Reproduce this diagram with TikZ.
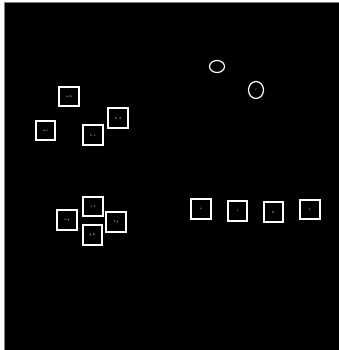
\documentclass[tikz,border=0pt]{standalone}
\usepackage{tikz}
\usetikzlibrary{shapes.geometric}

\begin{document}
\begin{tikzpicture}[
        x=1pt, y=-1pt,
        bnode/.style={draw=white, line width=2.2pt, minimum size=19.5pt, inner sep=0pt,
                      font=\fontsize{3}{3.5}\selectfont, text=white},
        onode/.style={draw=white, ellipse, line width=1.2pt, inner sep=0pt,
                      font=\fontsize{3}{3.5}\selectfont, text=white}
    ]
    % ---- Frame ----
    \useasboundingbox (0,0) rectangle (338,350);
    \fill[white] (0,0) rectangle (338,350);
    \draw[fill=black, draw=gray, line width=0.6pt] (4,2) rectangle (340,352);

    % ---- Top-left cluster ----
    \node[bnode] (A) at (69.0,  96.5) {a-b};
    \node[bnode] (B) at (45.5, 130.5) {a-c};
    \node[bnode] (C) at (93.0, 135.0) {b c};
    \node[bnode] (D) at (118.0, 118.0) {b\, d};

    % ---- Bottom-left cross ----
    \node[bnode] (E) at (93.0, 206.5) {e f};
    \node[bnode] (F) at (67.0, 220.0) {e-g};
    \node[bnode] (G) at (116.0, 222.0) {f g};
    \node[bnode] (H) at (92.5, 235.0) {g h};

    % ---- Right row ----
    \node[bnode] (I) at (201.0, 209.0) {i-};
    \node[bnode] (J) at (237.5, 211.0) {j};
    \node[bnode] (K) at (273.5, 212.0) {k};
    \node[bnode] (L) at (310.0, 209.5) {l};

    % ---- Two small ellipses ----
    \node[onode, minimum width=15pt, minimum height=12pt] (M) at (217.0, 66.5) {.};
    \node[onode, minimum width=15pt, minimum height=17pt] (N) at (256.0, 90.0) {/};

\end{tikzpicture}
\end{document}
